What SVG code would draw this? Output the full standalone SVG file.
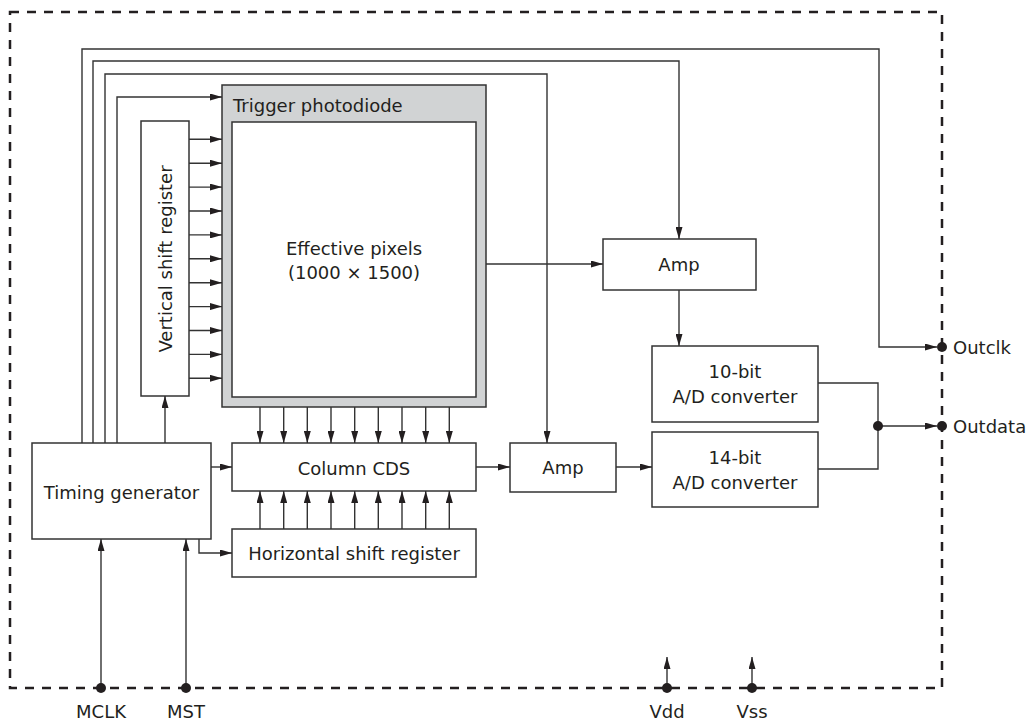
<svg xmlns="http://www.w3.org/2000/svg" width="1027" height="722" viewBox="0 0 1027 722">
<style>
.box{fill:#fff;stroke:#333;stroke-width:1.5}
.gray{fill:#d1d3d4;stroke:#333;stroke-width:1.5}
.ln{fill:none;stroke:#333;stroke-width:1.4}
.arr{fill:none;stroke:#333;stroke-width:1.4;marker-end:url(#ah)}
.dot{fill:#231f20}
.border{fill:none;stroke:#231f20;stroke-width:2.5;stroke-dasharray:9 8}
text{font-family:"DejaVu Sans",Verdana,sans-serif;font-size:18px;fill:#231f20}
.c{text-anchor:middle}
</style>
<defs>
<marker id="ah" markerUnits="userSpaceOnUse" markerWidth="12" markerHeight="7" refX="12" refY="3.5" orient="auto">
<path d="M0,0 L12,3.5 L0,7 z" fill="#231f20"/>
</marker>
</defs>
<rect class="border" x="10" y="12" width="932" height="676"/>

<g id="trigger-photodiode">
<rect class="gray" x="222" y="85" width="264" height="322"/>
<text x="233" y="112">Trigger photodiode</text>
</g>
<g id="effective-pixels">
<rect class="box" x="232" y="122" width="244" height="275"/>
<text class="c" x="354" y="255">Effective pixels</text>
<text class="c" x="354" y="279">(1000 × 1500)</text>
</g>
<g id="vertical-shift-register">
<rect class="box" x="141" y="121" width="48" height="275"/>
<text class="c" transform="translate(172,259) rotate(-90)">Vertical shift register</text>
</g>
<g id="timing-generator">
<rect class="box" x="32" y="443" width="179" height="96"/>
<text class="c" x="121.5" y="499">Timing generator</text>
</g>
<g id="column-cds">
<rect class="box" x="232" y="443" width="244" height="48"/>
<text class="c" x="354" y="475">Column CDS</text>
</g>
<g id="horizontal-shift-register">
<rect class="box" x="232" y="529" width="244" height="48"/>
<text class="c" x="354" y="560">Horizontal shift register</text>
</g>
<g id="amp1">
<rect class="box" x="603" y="239" width="153" height="51"/>
<text class="c" x="679" y="271">Amp</text>
</g>
<g id="amp2">
<rect class="box" x="510" y="443" width="106" height="49"/>
<text class="c" x="563" y="474">Amp</text>
</g>
<g id="adc10">
<rect class="box" x="652" y="346" width="166" height="76"/>
<text class="c" x="735" y="378">10-bit</text>
<text class="c" x="735" y="403">A/D converter</text>
</g>
<g id="adc14">
<rect class="box" x="652" y="432" width="166" height="75"/>
<text class="c" x="735" y="464">14-bit</text>
<text class="c" x="735" y="489">A/D converter</text>
</g>

<g id="connectors">
<polyline class="arr" points="82,443 82,49 879,49 879,347 937,347"/>
<polyline class="arr" points="93,443 93,61 679,61 679,239"/>
<polyline class="arr" points="105,443 105,74 547,74 547,443"/>
<polyline class="arr" points="117,443 117,97 222,97"/>
<line class="arr" x1="165" y1="443" x2="165" y2="396"/>
<line class="arr" x1="189" y1="139.3" x2="222" y2="139.3"/>
<line class="arr" x1="189" y1="163.2" x2="222" y2="163.2"/>
<line class="arr" x1="189" y1="187.1" x2="222" y2="187.1"/>
<line class="arr" x1="189" y1="211" x2="222" y2="211"/>
<line class="arr" x1="189" y1="234.9" x2="222" y2="234.9"/>
<line class="arr" x1="189" y1="258.8" x2="222" y2="258.8"/>
<line class="arr" x1="189" y1="282.7" x2="222" y2="282.7"/>
<line class="arr" x1="189" y1="306.6" x2="222" y2="306.6"/>
<line class="arr" x1="189" y1="330.5" x2="222" y2="330.5"/>
<line class="arr" x1="189" y1="354.4" x2="222" y2="354.4"/>
<line class="arr" x1="189" y1="378.3" x2="222" y2="378.3"/>
<line class="arr" x1="260" y1="407" x2="260" y2="443"/>
<line class="arr" x1="283.7" y1="407" x2="283.7" y2="443"/>
<line class="arr" x1="307.3" y1="407" x2="307.3" y2="443"/>
<line class="arr" x1="331" y1="407" x2="331" y2="443"/>
<line class="arr" x1="354.7" y1="407" x2="354.7" y2="443"/>
<line class="arr" x1="378.3" y1="407" x2="378.3" y2="443"/>
<line class="arr" x1="402" y1="407" x2="402" y2="443"/>
<line class="arr" x1="425.7" y1="407" x2="425.7" y2="443"/>
<line class="arr" x1="449.3" y1="407" x2="449.3" y2="443"/>
<line class="arr" x1="260" y1="529" x2="260" y2="491"/>
<line class="arr" x1="283.7" y1="529" x2="283.7" y2="491"/>
<line class="arr" x1="307.3" y1="529" x2="307.3" y2="491"/>
<line class="arr" x1="331" y1="529" x2="331" y2="491"/>
<line class="arr" x1="354.7" y1="529" x2="354.7" y2="491"/>
<line class="arr" x1="378.3" y1="529" x2="378.3" y2="491"/>
<line class="arr" x1="402" y1="529" x2="402" y2="491"/>
<line class="arr" x1="425.7" y1="529" x2="425.7" y2="491"/>
<line class="arr" x1="449.3" y1="529" x2="449.3" y2="491"/>
<line class="arr" x1="211" y1="467" x2="232" y2="467"/>
<polyline class="arr" points="199,539 199,553 232,553"/>
<line class="arr" x1="101" y1="688" x2="101" y2="539"/>
<line class="arr" x1="186" y1="688" x2="186" y2="539"/>
<line class="arr" x1="486" y1="264" x2="603" y2="264"/>
<line class="arr" x1="679" y1="290" x2="679" y2="346"/>
<line class="arr" x1="476" y1="467" x2="510" y2="467"/>
<line class="arr" x1="616" y1="467" x2="652" y2="467"/>
<polyline class="ln" points="818,383 878,383 878,469 818,469"/>
<line class="arr" x1="878" y1="426" x2="937" y2="426"/>
<line class="arr" x1="667" y1="688" x2="667" y2="657"/>
<line class="arr" x1="752" y1="688" x2="752" y2="657"/>
<circle class="dot" cx="878" cy="426" r="5"/>
<circle class="dot" cx="942" cy="347" r="5"/>
<circle class="dot" cx="942" cy="426" r="5"/>
<circle class="dot" cx="101" cy="688" r="5"/>
<circle class="dot" cx="186" cy="688" r="5"/>
<circle class="dot" cx="667" cy="688" r="5"/>
<circle class="dot" cx="752" cy="688" r="5"/>
</g>

<g id="pins">
<text x="953" y="354">Outclk</text>
<text x="953" y="433">Outdata</text>
<text class="c" x="101" y="718">MCLK</text>
<text class="c" x="186" y="718">MST</text>
<text class="c" x="667" y="718">Vdd</text>
<text class="c" x="752" y="718">Vss</text>
</g>
</svg>
